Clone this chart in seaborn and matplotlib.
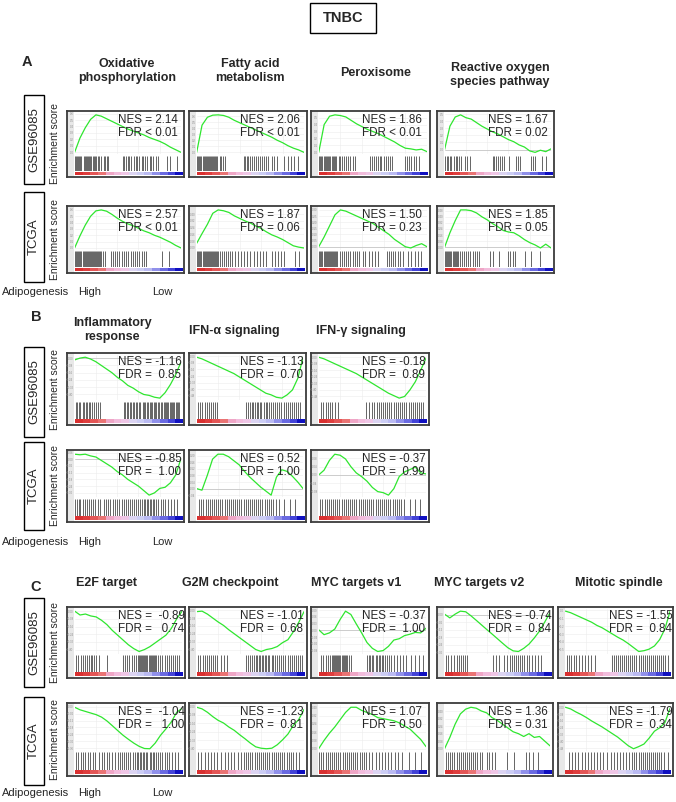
import matplotlib
matplotlib.use("Agg")
import matplotlib.pyplot as plt
import seaborn as sns
from matplotlib.colors import ListedColormap
from matplotlib.patches import Rectangle
from matplotlib.ticker import MaxNLocator

sns.set_style("white")
plt.rcParams['font.family'] = ['Liberation Sans', 'DejaVu Sans']

# rank position (% of ranked gene list) where the running score was read
rank_pct = [0, 5, 10, 15, 20, 25, 30, 35, 40, 45, 50, 55, 60, 65, 70, 75, 80, 85, 90, 95, 100]

# ---- A: running enrichment scores ----
es_gse_oxphos = [0, .22, .38, .51, .58, .56, .52, .48, .44, .40, .36, .33, .30, .27, .23, .20, .17, .13, .08, .04, 0]
es_gse_fatty = [0, .45, .58, .615, .62, .61, .58, .53, .49, .45, .41, .37, .33, .29, .25, .20, .16, .11, .07, .04, 0]
es_gse_perox = [0, .40, .52, .54, .53, .51, .46, .41, .37, .33, .30, .27, .23, .19, .15, .10, .06, .05, .035, .045, .01]
es_gse_ros = [0, .33, .46, .49, .45, .43, .38, .33, .29, .25, .22, .18, .14, .11, .065, .035, -.02, -.04, -.01, -.03, .01]
es_tcga_oxphos = [0, .19, .36, .50, .585, .60, .58, .53, .47, .42, .38, .35, .31, .27, .24, .20, .17, .13, .09, .04, 0]
es_tcga_fatty = [.055, .17, .28, .41, .45, .44, .42, .38, .35, .32, .295, .26, .23, .19, .155, .13, .10, .063, .026, .01, 0]
es_tcga_perox = [0, .08, .17, .26, .30, .29, .27, .25, .23, .21, .19, .16, .13, .10, .06, .03, 0, -.01, .01, .025, 0]
es_tcga_ros = [0, .19, .35, .49, .49, .48, .45, .40, .36, .31, .27, .22, .20, .19, .15, .10, .06, .03, -.01, .04, -.01]

# ---- B ----
es_gse_inflam = [-.02, 0, .01, -.01, -.04, -.08, -.12, -.16, -.21, -.25, -.30, -.33, -.37, -.40, -.41, -.43, -.44, -.38, -.29, -.18, -.04]
es_gse_ifna = [-.01, -.03, -.06, -.09, -.12, -.15, -.18, -.21, -.25, -.29, -.33, -.37, -.41, -.45, -.47, -.50, -.51, -.47, -.41, -.27, -.01]
es_gse_ifng = [0, -.02, -.05, -.08, -.11, -.14, -.17, -.20, -.24, -.28, -.32, -.36, -.40, -.44, -.47, -.50, -.48, -.40, -.30, -.16, -.01]
es_tcga_inflam = [.045, .04, .045, .03, .02, -.01, -.04, -.07, -.11, -.14, -.18, -.21, -.24, -.28, -.32, -.30, -.26, -.25, -.21, -.14, .01]
es_tcga_ifna = [0, -.01, .08, .18, .21, .21, .195, .17, .145, .105, .07, .04, .01, -.015, -.04, .07, .115, .105, .075, .04, 0]
es_tcga_ifng = [0, .023, .07, .10, .095, .077, .04, .01, -.008, -.03, -.06, -.08, -.085, -.097, -.066, -.008, .015, .026, .038, .01, .005]

# ---- C ----
es_gse_e2f = [0, -.04, -.03, -.05, -.06, -.095, -.14, -.20, -.25, -.30, -.35, -.39, -.42, -.40, -.37, -.33, -.29, -.25, -.18, -.08, 0]
es_gse_g2m = [-.015, -.01, -.04, -.08, -.12, -.155, -.20, -.24, -.28, -.32, -.36, -.40, -.42, -.40, -.39, -.37, -.33, -.30, -.22, -.125, -.015]
es_gse_mycv1 = [.003, -.019, -.011, .006, .049, .086, .071, .029, -.011, -.054, -.08, -.094, -.09, -.071, -.043, -.037, -.023, -.017, -.009, -.011, .01]
es_gse_mycv2 = [.006, -.024, .006, .03, .025, -.007, -.043, -.08, -.117, -.153, -.19, -.227, -.263, -.288, -.293, -.268, -.234, -.185, -.129, -.056, .018]
es_gse_mitotic = [-.01, -.03, -.06, -.09, -.12, -.15, -.19, -.22, -.26, -.30, -.34, -.375, -.42, -.47, -.52, -.51, -.49, -.45, -.37, -.235, -.01]
es_tcga_e2f = [-.005, -.027, -.041, -.055, -.069, -.09, -.123, -.164, -.206, -.247, -.282, -.315, -.343, -.362, -.364, -.315, -.247, -.192, -.132, -.049, -.014]
es_tcga_g2m = [-.01, -.025, -.057, -.098, -.133, -.158, -.196, -.227, -.268, -.306, -.347, -.382, -.395, -.40, -.395, -.363, -.316, -.262, -.18, -.126, -.03]
es_tcga_mycv1 = [0, .08, .15, .21, .28, .35, .40, .40, .37, .35, .33, .30, .29, .28, .27, .25, .22, .19, .14, .09, .02]
es_tcga_mycv2 = [0, .12, .26, .37, .42, .44, .43, .40, .38, .33, .30, .26, .22, .18, .16, .13, .16, .12, .13, .08, .03]
es_tcga_mitotic = [0, -.02, -.055, -.085, -.12, -.16, -.195, -.23, -.27, -.31, -.35, -.40, -.45, -.485, -.46, -.43, -.36, -.28, -.24, -.18, -.01]

# ---- gene set hits (% rank) ----
hits_gse_oxphos = [0, 1, 2, 3, 4, 5, 6, 8, 9, 10, 11, 12, 13, 14, 15, 17, 18, 19, 20, 22, 23, 25, 27, 28, 30, 31, 45, 46, 48, 50, 51, 53, 56, 58, 59, 61, 63, 64, 66, 68, 71, 72, 74, 77, 79, 87, 90, 97]
hits_gse_fatty = [0, 1, 2, 3, 4, 5, 6, 7, 8, 9, 10, 11, 12, 13, 14, 15, 16, 17, 18, 19, 21, 22, 24, 26, 44, 45, 47, 48, 50, 52, 53, 55, 57, 59, 61, 63, 65, 67, 70, 72, 75, 82, 85, 88, 91, 95]
hits_gse_perox = [0, 1, 2, 3, 4, 5, 6, 7, 8, 9, 10, 12, 13, 14, 15, 16, 18, 19, 21, 23, 25, 27, 29, 31, 33, 47, 49, 51, 53, 55, 57, 58, 60, 62, 64, 66, 68, 80, 82, 84, 86, 88, 90, 93]
hits_gse_ros = [0, 2, 3, 5, 6, 8, 10, 11, 13, 15, 19, 21, 24, 45, 46, 48, 50, 52, 54, 56, 61, 67, 69, 71, 81, 83, 85, 92, 96]
hits_tcga_oxphos = [0, 1, 2, 3, 4, 5, 6, 7, 8, 9, 10, 11, 12, 13, 14, 15, 16, 17, 18, 19, 20, 21, 22, 23, 24, 25, 26, 28, 34, 36, 38, 40, 42, 44, 46, 48, 50, 53, 55, 57, 59, 61, 63, 65, 67, 82, 89]
hits_tcga_fatty = [0, 1, 2, 3, 4, 5, 6, 7, 8, 9, 10, 11, 12, 13, 14, 15, 16, 17, 18, 19, 20, 21, 23, 25, 27, 29, 31, 33, 36, 38, 41, 44, 47, 50, 53, 56, 59, 62, 65, 70, 73, 76, 79, 82, 92, 96]
hits_tcga_perox = [0, 1, 2, 3, 4, 5, 6, 7, 8, 9, 10, 11, 12, 13, 14, 15, 16, 17, 19, 21, 23, 25, 27, 29, 31, 33, 35, 37, 41, 43, 46, 49, 52, 55, 63, 65, 67, 69, 71, 73, 75, 78, 83, 86, 89, 92, 95]
hits_tcga_ros = [0, 1, 2, 3, 4, 5, 6, 7, 8, 9, 10, 11, 12, 14, 16, 18, 20, 22, 24, 26, 28, 30, 32, 43, 45, 51, 60, 62, 64, 66, 76, 81, 90]

hits_gse_inflam = [1, 2, 4, 5, 7, 8, 10, 11, 13, 14, 16, 18, 20, 22, 24, 46, 47, 49, 50, 52, 53, 55, 56, 58, 59, 61, 62, 64, 65, 66, 68, 69, 71, 72, 73, 75, 76, 77, 79, 80, 81, 82, 84, 85, 86, 87, 88, 90, 91, 92, 93, 94, 96, 97, 98, 99]
hits_gse_ifna = [1, 3, 5, 7, 9, 11, 13, 15, 17, 19, 46, 48, 50, 52, 53, 55, 57, 58, 60, 61, 63, 65, 66, 68, 70, 72, 74, 76, 78, 80, 82, 84, 86, 88, 90, 92, 94, 96, 98]
hits_gse_ifng = [2, 4, 6, 8, 10, 12, 15, 18, 44, 47, 50, 52, 54, 56, 58, 60, 62, 64, 66, 68, 70, 72, 74, 76, 78, 80, 82, 84, 86, 88, 90, 92, 94, 96, 98]
hits_tcga_inflam = [0, 2, 4, 5, 7, 9, 11, 13, 15, 17, 19, 22, 24, 27, 29, 31, 33, 36, 38, 40, 42, 44, 46, 48, 50, 52, 54, 56, 58, 60, 62, 63, 65, 66, 68, 69, 71, 72, 74, 75, 77, 79, 81, 83, 85, 88, 91, 94, 97]
hits_tcga_ifna = [2, 4, 6, 8, 10, 12, 14, 16, 18, 20, 22, 24, 26, 28, 30, 32, 34, 36, 38, 40, 42, 44, 46, 48, 50, 52, 54, 56, 58, 60, 62, 64, 66, 68, 70, 72, 75, 78, 82, 88, 93]
hits_tcga_ifng = [1, 3, 5, 7, 9, 11, 13, 15, 17, 19, 21, 23, 25, 27, 29, 31, 33, 35, 37, 39, 41, 43, 45, 47, 49, 51, 53, 55, 57, 59, 61, 63, 65, 67, 69, 71, 73, 75, 77, 80, 85, 90, 95]

hits_gse_e2f = [1, 3, 5, 7, 9, 11, 13, 15, 16, 18, 20, 22, 30, 45, 47, 49, 51, 53, 55, 57, 59, 60, 61, 62, 63, 64, 65, 66, 67, 68, 69, 70, 71, 72, 73, 74, 75, 76, 78, 80, 82, 84, 86, 88, 90, 92, 94, 96, 98]
hits_gse_g2m = [1, 3, 5, 7, 9, 11, 13, 15, 17, 19, 22, 25, 28, 46, 48, 50, 52, 53, 55, 56, 58, 59, 61, 62, 64, 65, 67, 68, 70, 71, 73, 75, 77, 79, 81, 83, 85, 87, 89, 91, 93, 95, 97, 99]
hits_gse_mycv1 = [2, 4, 6, 8, 10, 12, 13, 14, 15, 16, 17, 18, 19, 20, 21, 22, 23, 24, 25, 26, 28, 30, 45, 47, 48, 50, 51, 53, 54, 56, 57, 59, 60, 62, 64, 66, 68, 70, 73, 76, 79, 82, 86, 90, 94, 98]
hits_gse_mycv2 = [1, 3, 6, 9, 11, 13, 15, 17, 19, 21, 46, 49, 52, 56, 59, 62, 64, 66, 68, 70, 72, 74, 76, 78, 80, 83, 86, 89, 92]
hits_gse_mitotic = [1, 3, 5, 8, 10, 13, 15, 18, 21, 24, 28, 44, 46, 48, 50, 52, 54, 56, 58, 60, 62, 64, 66, 68, 70, 72, 74, 76, 78, 80, 82, 84, 86, 88, 90, 92, 94, 96, 98]
hits_tcga_e2f = [1, 3, 5, 7, 9, 12, 14, 17, 19, 22, 25, 27, 30, 32, 35, 37, 40, 42, 44, 46, 48, 50, 52, 54, 56, 58, 59, 61, 62, 64, 65, 67, 68, 70, 71, 73, 74, 76, 78, 80, 82, 84, 86, 88, 91, 94, 97]
hits_tcga_g2m = [1, 4, 7, 10, 13, 16, 19, 22, 26, 29, 32, 35, 38, 41, 44, 46, 48, 50, 52, 54, 56, 58, 60, 62, 64, 66, 68, 70, 72, 74, 76, 78, 80, 82, 84, 86, 88, 90, 93, 96]
hits_tcga_mycv1 = [0, 2, 4, 6, 8, 10, 12, 14, 16, 18, 20, 22, 24, 26, 28, 30, 32, 34, 36, 38, 40, 42, 44, 47, 50, 53, 56, 59, 62, 65, 68, 71, 74, 78, 84, 90, 96]
hits_tcga_mycv2 = [1, 3, 5, 7, 9, 11, 13, 15, 17, 19, 21, 23, 25, 27, 29, 31, 33, 35, 40, 42, 45, 48, 59, 66, 77, 80, 84, 89]
hits_tcga_mitotic = [3, 6, 9, 12, 15, 18, 21, 24, 27, 30, 33, 36, 40, 43, 46, 49, 52, 55, 58, 61, 64, 66, 68, 70, 72, 74, 76, 78, 80, 82, 84, 86, 88, 90, 92, 95, 98]

# ---- titles and statistics ----
titles_a = ["Oxidative\nphosphorylation", "Fatty acid\nmetabolism", "Peroxisome", "Reactive oxygen\nspecies pathway"]
titles_b = ["Inflammatory\nresponse", "IFN-α signaling", "IFN-γ signaling"]
titles_c = ["E2F target", "G2M checkpoint", "MYC targets v1", "MYC targets v2", "Mitotic spindle"]

nes_a_gse = ["NES = 2.14", "NES = 2.06", "NES = 1.86", "NES = 1.67"]
fdr_a_gse = ["FDR < 0.01", "FDR < 0.01", "FDR < 0.01", "FDR = 0.02"]
nes_a_tcga = ["NES = 2.57", "NES = 1.87", "NES = 1.50", "NES = 1.85"]
fdr_a_tcga = ["FDR < 0.01", "FDR = 0.06", "FDR = 0.23", "FDR = 0.05"]
nes_b_gse = ["NES = -1.16", "NES = -1.13", "NES = -0.18"]
fdr_b_gse = ["FDR =  0.85", "FDR =  0.70", "FDR =  0.89"]
nes_b_tcga = ["NES = -0.85", "NES = 0.52", "NES = -0.37"]
fdr_b_tcga = ["FDR =  1.00", "FDR = 1.00", "FDR =  0.99"]
nes_c_gse = ["NES =  -0.89", "NES = -1.01", "NES = -0.37", "NES = -0.74", "NES = -1.55"]
fdr_c_gse = ["FDR =   0.74", "FDR =  0.68", "FDR =  1.00", "FDR =  0.84", "FDR =  0.84"]
nes_c_tcga = ["NES =  -1.04", "NES = -1.23", "NES = 1.07", "NES = 1.36", "NES = -1.79"]
fdr_c_tcga = ["FDR =   1.00", "FDR =  0.81", "FDR = 0.50", "FDR = 0.31", "FDR =  0.34"]

# ---- layout (pixels) and style ----
W, H = 676, 802
GREEN = "#2fe62f"
FRAME = "#3c3c3c"
STRIP = "#e8e8e8"
GRAD = ['#d93030', '#df3e3e', '#e45656', '#ea7474', '#efa6c6', '#f2bcdc', '#efc6e6',
        '#dcd4f2', '#cccdf4', '#babaf2', '#9090ea', '#6a6ae2', '#4343d8', '#1010c0']

fig = plt.figure(figsize=(W / 100, H / 100), dpi=100)


def px_axes(x0, y0, x1, y1):
    return fig.add_axes([x0 / W, 1 - y1 / H, (x1 - x0) / W, (y1 - y0) / H])


def ftext(x, y, s, **kw):
    return fig.text(x / W, 1 - y / H, s, **kw)


def draw_panel(x0, y0, x1, y1, es, hits, nes, fdr):
    w, h = x1 - x0, y1 - y0
    frame = px_axes(x0, y0, x1, y1)
    frame.set_xlim(0, 1)
    frame.set_ylim(0, 1)
    frame.axvspan(0, 0.057, color=STRIP, lw=0)
    frame.set_xticks([])
    frame.set_yticks([])
    for s in frame.spines.values():
        s.set_color(FRAME)
        s.set_linewidth(1.3)

    # running enrichment score
    ax = px_axes(x0 + 0.065 * w, y0 + 0.03 * h, x1 - 0.025 * w, y0 + 0.655 * h)
    ax.patch.set_alpha(0)
    xs = [p / 100 for p in rank_pct]
    lo, hi = min(es), max(es)
    pad = (hi - lo) * 0.05
    ax.set_xlim(0, 1)
    ax.yaxis.set_major_locator(MaxNLocator(7))
    ax.set_xticks([0.2, 0.4, 0.6, 0.8])
    ax.set_xticklabels([])
    ax.grid(True, color="#ececec", lw=0.4)
    if lo < 0 < hi:
        ax.axhline(0, color="#bdbdbd", lw=0.5)
    sns.lineplot(x=xs, y=es, ax=ax, color=GREEN, linewidth=0.9)
    ax.set_ylim(lo - pad, hi + pad)
    ax.tick_params(axis="y", labelsize=2, colors="#8a8a8a", length=0, pad=0.8)
    ax.tick_params(axis="x", length=0)
    for s in ax.spines.values():
        s.set_visible(False)
    ax.set_xlabel("")
    ax.set_ylabel("")

    # hit barcode
    bc = px_axes(x0 + 0.065 * w, y0 + 0.675 * h, x1 - 0.025 * w, y0 + 0.915 * h)
    bc.vlines(hits, 0, 1, color="#000000", lw=0.6, alpha=0.7)
    bc.set_xlim(-0.5, 100.5)
    bc.set_ylim(0, 1)
    bc.axis("off")

    # ranked list metric bar
    gr = px_axes(x0 + 0.065 * w, y0 + 0.918 * h, x1 - 0.02 * w, y0 + 0.975 * h)
    gr.imshow([list(range(len(GRAD)))], aspect="auto", cmap=ListedColormap(GRAD),
              interpolation="nearest")
    gr.axis("off")

    ftext(x0 + 51, y0 + 9, nes, fontsize=8.4, ha="left", va="center")
    ftext(x0 + 51, y0 + 22, fdr, fontsize=8.4, ha="left", va="center")


def row_label(y0, y1, label):
    fig.patches.append(Rectangle((24 / W, 1 - y1 / H), 20 / W, (y1 - y0) / H,
                                 transform=fig.transFigure, fill=False,
                                 edgecolor="black", lw=1.0))
    ftext(34, (y0 + y1) / 2, label, fontsize=9.5, rotation=90, ha="center", va="center")


sections = [
    dict(letter="A", letter_xy=(27, 62),
         titles=titles_a, title_x=[127, 250, 376, 500], title_y=[71, 71, 73, 75],
         cols=[(67, 184), (189, 307), (311, 430), (437, 554)],
         rows=[(111, 177), (206, 273)], boxes=[(95, 184), (192, 282)], adipo=292,
         es=[[es_gse_oxphos, es_gse_fatty, es_gse_perox, es_gse_ros],
             [es_tcga_oxphos, es_tcga_fatty, es_tcga_perox, es_tcga_ros]],
         hits=[[hits_gse_oxphos, hits_gse_fatty, hits_gse_perox, hits_gse_ros],
               [hits_tcga_oxphos, hits_tcga_fatty, hits_tcga_perox, hits_tcga_ros]],
         nes=[nes_a_gse, nes_a_tcga], fdr=[fdr_a_gse, fdr_a_tcga]),
    dict(letter="B", letter_xy=(36, 317),
         titles=titles_b, title_x=[112, 234, 361], title_y=[330, 331, 331],
         cols=[(67, 184), (189, 306), (311, 429)],
         rows=[(353, 425), (450, 522)], boxes=[(347, 437), (442, 530)], adipo=542,
         es=[[es_gse_inflam, es_gse_ifna, es_gse_ifng],
             [es_tcga_inflam, es_tcga_ifna, es_tcga_ifng]],
         hits=[[hits_gse_inflam, hits_gse_ifna, hits_gse_ifng],
               [hits_tcga_inflam, hits_tcga_ifna, hits_tcga_ifng]],
         nes=[nes_b_gse, nes_b_tcga], fdr=[fdr_b_gse, fdr_b_tcga]),
    dict(letter="C", letter_xy=(36, 587),
         titles=titles_c, title_x=[107, 230, 356, 479, 619], title_y=[583] * 5,
         cols=[(67, 185), (189, 307), (311, 429), (437, 553), (558, 673)],
         rows=[(607, 678), (703, 776)], boxes=[(598, 687), (697, 785)], adipo=793,
         es=[[es_gse_e2f, es_gse_g2m, es_gse_mycv1, es_gse_mycv2, es_gse_mitotic],
             [es_tcga_e2f, es_tcga_g2m, es_tcga_mycv1, es_tcga_mycv2, es_tcga_mitotic]],
         hits=[[hits_gse_e2f, hits_gse_g2m, hits_gse_mycv1, hits_gse_mycv2, hits_gse_mitotic],
               [hits_tcga_e2f, hits_tcga_g2m, hits_tcga_mycv1, hits_tcga_mycv2, hits_tcga_mitotic]],
         nes=[nes_c_gse, nes_c_tcga], fdr=[fdr_c_gse, fdr_c_tcga]),
]

# figure title
fig.patches.append(Rectangle((310 / W, 1 - 33 / H), 66 / W, 30 / H, transform=fig.transFigure,
                             fill=False, edgecolor="black", lw=1.0))
ftext(343, 18, "TNBC", fontsize=10.5, fontweight="bold", ha="center", va="center")

for sec in sections:
    ftext(sec["letter_xy"][0], sec["letter_xy"][1], sec["letter"], fontsize=10.5,
          fontweight="bold", ha="center", va="center")
    for t, tx, ty in zip(sec["titles"], sec["title_x"], sec["title_y"]):
        ftext(tx, ty, t, fontsize=9, fontweight="bold", ha="center", va="center",
              linespacing=1.15)
    for r, (y0, y1) in enumerate(sec["rows"]):
        row_label(sec["boxes"][r][0], sec["boxes"][r][1], ["GSE96085", "TCGA"][r])
        ftext(55, (y0 + y1) / 2, "Enrichment score", fontsize=7.5, rotation=90,
              ha="center", va="center")
        for c, (x0, x1) in enumerate(sec["cols"]):
            draw_panel(x0, y0, x1, y1, sec["es"][r][c], sec["hits"][r][c],
                       sec["nes"][r][c], sec["fdr"][r][c])
    ftext(2, sec["adipo"], "Adipogenesis", fontsize=8, ha="left", va="center")
    ftext(78, sec["adipo"], "High", fontsize=8, ha="left", va="center")
    ftext(152, sec["adipo"], "Low", fontsize=8, ha="left", va="center")

fig.savefig("out.png", dpi=100)
